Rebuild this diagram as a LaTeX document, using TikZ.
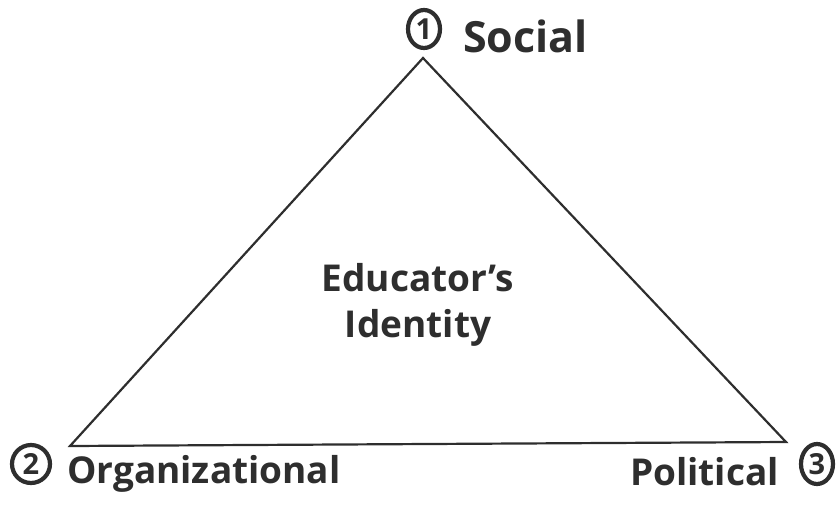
\documentclass[tikz,border=0pt]{standalone}
\usepackage{fontspec}
\setmainfont{Open Sans}
\begin{document}
\begin{tikzpicture}[x=1pt,y=-1pt,
  lbl/.style={font=\bfseries\fontsize{37}{40}\selectfont, inner sep=0pt, text=black!82},
  ctr/.style={font=\bfseries\fontsize{37}{46}\selectfont, inner sep=0pt, align=center, text=black!82},
  num/.style={inner sep=0pt, font=\bfseries\fontsize{29}{29}\selectfont, text=black!82},
  ring/.style={line width=4.2pt, draw=black!82},
  edge/.style={line width=2.2pt, draw=black!82, line join=miter}]
\useasboundingbox (0,0) rectangle (838,504);
\coordinate (top) at (423,58);
\coordinate (bl) at (70,446);
\coordinate (br) at (786,442);
\draw[edge] (top) -- (bl) -- (br) -- cycle;
\node[num] (n1) at (424,29) {1};
\draw[ring] (n1.center) ellipse [x radius=16pt, y radius=19pt];
\node[lbl, anchor=west] (social) at (463,36) {\fontsize{43}{46}\selectfont Social};
\node[num] (n2) at (31,464) {2};
\draw[ring] (n2.center) ellipse [x radius=19pt, y radius=19pt];
\node[lbl, anchor=west] (org) at (67,474) {Organizational};
\node[lbl, anchor=east] (pol) at (779,472) {Political};
\node[num] (n3) at (817,464) {3};
\draw[ring] (n3.center) ellipse [x radius=16pt, y radius=20pt];
\node[ctr] (center) at (418,305) {Educator's\\Identity};
\end{tikzpicture}
\end{document}
